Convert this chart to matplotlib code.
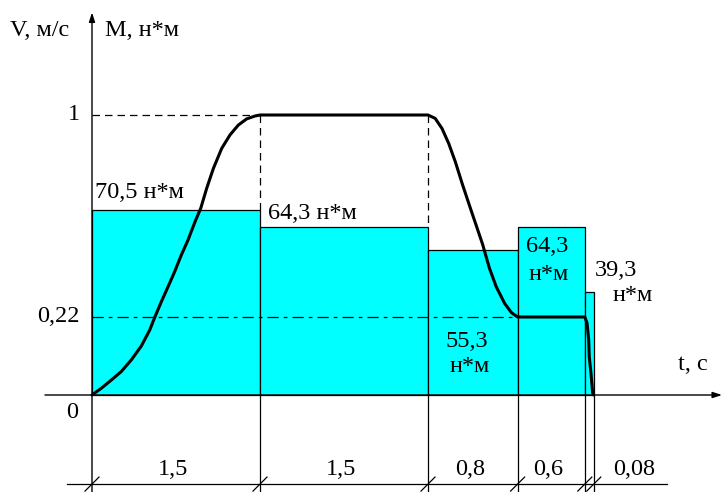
"""Speed and torque diagram of a drive duty cycle."""

import matplotlib

matplotlib.use("Agg")
import matplotlib.pyplot as plt
import numpy as np

# stages of the cycle: duration (s) and motor torque (N*m)
STAGE_DURATIONS = [1.5, 1.5, 0.8, 0.6, 0.08]
STAGE_LABELS = ["1,5", "1,5", "0,8", "0,6", "0,08"]
STAGE_TORQUE = [70.5, 64.3, 55.3, 64.3, 39.3]
TORQUE_LABELS = ["70,5", "64,3", "55,3", "64,3", "39,3"]
TORQUE_UNIT = "н*м"

# speed curve, m/s
SPEED_T = [
    0.0, 0.083, 0.172, 0.261, 0.351, 0.44, 0.515, 0.56, 0.619, 0.679,
    0.738, 0.797, 0.857, 0.92, 0.971, 1.024, 1.084, 1.158, 1.232, 1.306,
    1.381, 1.455, 1.5,
    3.0, 3.064, 3.125, 3.185, 3.245, 3.306, 3.366, 3.427, 3.488, 3.548,
    3.609, 3.685, 3.745, 3.8,
    4.4, 4.42, 4.435, 4.44, 4.455, 4.47, 4.48,
]
SPEED_V = [
    0.0, 0.019, 0.042, 0.066, 0.099, 0.138, 0.183, 0.219, 0.279, 0.337,
    0.395, 0.459, 0.517, 0.588, 0.64, 0.717, 0.794, 0.871, 0.923, 0.961,
    0.985, 0.996, 1.0,
    1.0, 0.987, 0.948, 0.89, 0.818, 0.734, 0.656, 0.578, 0.5, 0.409,
    0.337, 0.272, 0.237, 0.22,
    0.22, 0.203, 0.155, 0.107, 0.062, 0.006, 0.0,
]
SPEED_TICKS = [1.0, 0.22]
SPEED_TICK_LABELS = ["1", "0,22"]

CYAN = "#00FFFF"
FONT = ["Liberation Serif", "DejaVu Serif"]
FS = 17.5

# layout in pixels (figure 723 x 492, 100 dpi)
PX_PER_S = 112.0
PX_PER_NM = 2.62
ORIGIN_X = 92.0
ORIGIN_Y = 97.0
# speed axis is drawn piecewise: 0.22 m/s and 1 m/s heights above the t axis
V_KNOTS = np.array([-1.0, 0.0, 0.22, 1.0, 2.0])
H_KNOTS = np.array([-78.0 / 0.22, 0.0, 78.0, 280.0, 280.0 + 202.0 / 0.78])


def v_forward(v):
    return np.interp(v, V_KNOTS, H_KNOTS)


def v_inverse(h):
    return np.interp(h, H_KNOTS, V_KNOTS)


def label(ax, text, xy, offset, ha="left", va="baseline"):
    ax.annotate(text, xy, xytext=offset, textcoords="offset pixels",
                ha=ha, va=va, fontsize=FS)


def main() -> None:
    plt.rcParams["font.family"] = FONT
    fig = plt.figure(figsize=(7.23, 4.92), dpi=100)
    ax = fig.add_axes([0, 0, 1, 1])
    ax.set_xlim(-ORIGIN_X / PX_PER_S, (723 - ORIGIN_X) / PX_PER_S)
    m_bottom = -ORIGIN_Y / PX_PER_NM
    ax.set_ylim(m_bottom, (492 - ORIGIN_Y) / PX_PER_NM)
    ax.axis("off")

    axv = ax.twinx()
    axv.set_yscale("function", functions=(v_forward, v_inverse))
    axv.set_ylim(v_inverse(-ORIGIN_Y), v_inverse(492 - ORIGIN_Y))
    axv.axis("off")

    edges = np.concatenate([[0.0], np.cumsum(STAGE_DURATIONS)])
    widths = np.diff(edges)

    # torque bars
    ax.bar(edges[:-1], STAGE_TORQUE, width=widths, align="edge",
           color=CYAN, edgecolor="black", linewidth=0.9, zorder=2)
    ax.vlines(edges[1:], m_bottom, 0, color="black", linewidth=0.9, zorder=2)

    # axes with arrows
    arrow = dict(arrowstyle="-|>,head_width=0.18,head_length=0.55",
                 color="black", lw=1.0, shrinkA=0, shrinkB=0)
    y_top = 146.0
    t_end = 5.625
    ax.annotate("", xy=(t_end, 0), xytext=(-0.42, 0), arrowprops=arrow, zorder=4)
    ax.annotate("", xy=(0, y_top), xytext=(0, m_bottom), arrowprops=arrow, zorder=4)

    # dimension line with stage durations
    dim_level = -34.0
    ax.plot([-0.22, 5.13], [dim_level, dim_level], color="black", linewidth=0.9)
    dt, dm = 7 / PX_PER_S, 7 / PX_PER_NM
    for x in edges:
        ax.plot([x - dt, x + dt], [dim_level - dm, dim_level + dm],
                color="black", linewidth=0.9)
    for i, text in enumerate(STAGE_LABELS):
        if i == len(STAGE_LABELS) - 1:
            label(ax, text, (edges[i + 1], dim_level), (19, 9))
        else:
            label(ax, text, ((edges[i] + edges[i + 1]) / 2, dim_level),
                  (-3, 9), ha="center")

    # torque labels
    label(ax, f"{TORQUE_LABELS[0]} {TORQUE_UNIT}", (edges[0], STAGE_TORQUE[0]), (3, 12))
    label(ax, f"{TORQUE_LABELS[1]} {TORQUE_UNIT}", (edges[1], STAGE_TORQUE[1]), (8, 8))
    mid = (edges[2] + edges[3]) / 2
    label(ax, TORQUE_LABELS[2], (mid, 0), (-6, 48), ha="center")
    label(ax, TORQUE_UNIT, (mid, 0), (-3, 23), ha="center")
    mid = (edges[3] + edges[4]) / 2
    label(ax, TORQUE_LABELS[3], (mid, STAGE_TORQUE[3]), (-4, -25), ha="center")
    label(ax, TORQUE_UNIT, (mid, STAGE_TORQUE[3]), (-2, -53), ha="center")
    label(ax, TORQUE_LABELS[4], (edges[5], STAGE_TORQUE[4]), (1, 16))
    label(ax, TORQUE_UNIT, (edges[5], STAGE_TORQUE[4]), (19, -9))

    # guide lines for the speed levels
    axv.plot([0, edges[1]], [1.0, 1.0], color="black", linewidth=0.9,
             linestyle=(0, (6, 4)), zorder=3)
    axv.plot([0, edges[3]], [0.22, 0.22], color="black", linewidth=0.9,
             linestyle=(0, (9, 4, 3, 4)), zorder=3)
    to_v = axv.transData.inverted()
    for i, torque in ((1, STAGE_TORQUE[0]), (2, STAGE_TORQUE[1])):
        v_bar = to_v.transform(ax.transData.transform((edges[i], torque)))[1]
        axv.plot([edges[i], edges[i]], [1.0, v_bar], color="black",
                 linewidth=0.9, linestyle=(0, (6, 4)), zorder=3)

    # speed curve
    axv.plot(SPEED_T, SPEED_V, color="black", linewidth=2.2,
             solid_joinstyle="round", solid_capstyle="round", zorder=5)

    for v, text in zip(SPEED_TICKS, SPEED_TICK_LABELS):
        label(axv, text, (0, v), (-12, 0), ha="right", va="center")
    label(axv, "0", (0, 0), (-20, -18), ha="center", va="center")

    # axis titles
    label(ax, "V, м/с", (0, y_top), (-52, -18), ha="center", va="center")
    label(ax, "M, н*м", (0, y_top), (13, -18), va="center")
    label(ax, "t, с", (t_end, 0), (-44, 30), va="center")

    fig.savefig("out.png", dpi=100, facecolor="white")
    plt.close(fig)


if __name__ == "__main__":
    main()
